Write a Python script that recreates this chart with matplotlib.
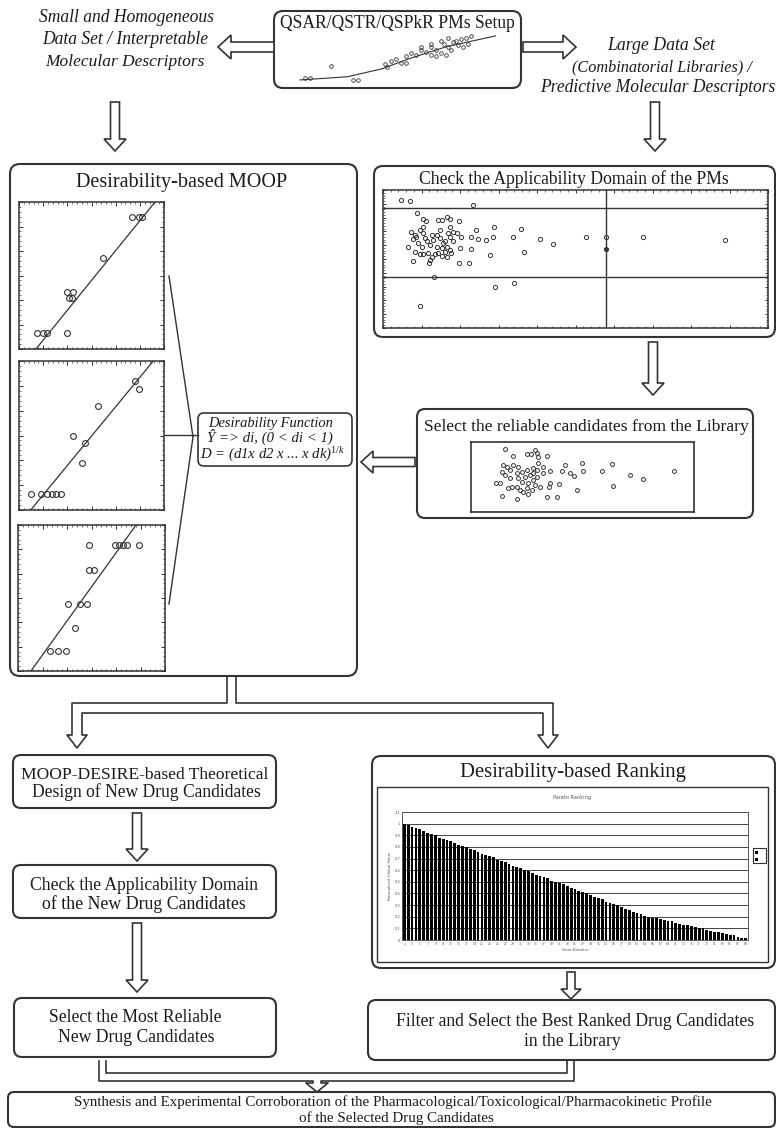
import matplotlib
matplotlib.use('Agg')
import matplotlib.pyplot as plt
from matplotlib.patches import FancyBboxPatch, FancyArrow, Rectangle
from matplotlib.ticker import MultipleLocator

W, H = 776, 1128
plt.rcParams['font.family'] = ['Liberation Serif', 'DejaVu Serif']
plt.rcParams['mathtext.fontset'] = 'custom'
plt.rcParams['mathtext.it'] = 'Liberation Serif:italic'
plt.rcParams['mathtext.rm'] = 'Liberation Serif'

# ---------------- data (relative 0-100 units) ----------------
# top QSAR box scatter
qsar_x = [6.7, 9.0, 18.6, 28.5, 30.8, 43.4, 44.3, 46.1, 48.4, 50.6, 52.9, 55.1, 57.4, 59.6,
          61.9, 64.1, 66.4, 68.6, 69.8, 72.0, 74.3, 75.4, 77.6, 79.9, 81.0, 78.8, 73.1, 66.4,
          59.6, 52.9, 64.1, 70.9, 76.5, 82.1, 64.1, 68.6, 72.0]
qsar_y = [10.5, 10.5, 33.9, 7.5, 7.5, 36.7, 30.9, 42.5, 45.4, 39.6, 51.2, 57.0, 54.2, 62.8,
          60.0, 68.8, 62.8, 57.0, 74.6, 68.8, 77.4, 80.4, 83.3, 86.1, 74.6, 68.8, 62.8, 51.2,
          68.8, 39.6, 54.2, 54.2, 71.6, 89.1, 74.6, 80.4, 86.1]
qsar_curve_x = [4.5, 25.9, 41.6, 55.1, 70.9, 93.4]
qsar_curve_y = [7.5, 13.3, 27.9, 48.2, 68.8, 89.1]

# MOOP scatter plots (observed vs predicted)
p1_x = [12.6, 16.8, 19.5, 32.9, 32.9, 37.0, 34.5, 36.3, 57.7, 77.7, 83.0, 85.1]
p1_y = [11.1, 11.1, 11.1, 11.1, 38.9, 38.9, 34.4, 34.8, 62.2, 89.8, 89.8, 89.8]
p1_line_x = [11.7, 93.8]
p1_line_y = [0.0, 100.0]

p2_x = [80.0, 83.0, 54.3, 37.0, 45.7, 43.2, 8.1, 15.0, 19.1, 22.6, 25.5, 28.8]
p2_y = [86.6, 81.5, 69.7, 49.6, 44.7, 31.3, 10.7, 10.7, 10.7, 10.7, 10.7, 10.7]
p2_line_x = [8.1, 92.6]
p2_line_y = [0.0, 100.0]

p3_x = [48.6, 66.1, 69.0, 71.3, 74.0, 82.6, 48.0, 51.8, 33.9, 41.9, 46.8, 38.9, 21.5, 26.9, 32.6]
p3_y = [86.0, 86.0, 86.0, 86.0, 86.0, 86.0, 69.1, 69.1, 45.8, 45.8, 45.8, 29.7, 13.7, 13.7, 13.7]
p3_line_x = [8.8, 80.3]
p3_line_y = [0.0, 100.0]

# applicability domain (Williams-like) plot
ad_x = [4.8, 6.9, 23.4, 8.8, 10.4, 11.1, 14.3, 15.2, 16.6, 17.3, 19.7, 24.2, 28.8, 35.9,
        22.9, 24.7, 26.8, 28.7, 33.8, 40.9, 44.2, 52.6, 57.8, 67.5, 88.9, 19.9, 22.9, 27.7,
        36.5, 7.8, 19.7, 22.3, 13.2, 29.1, 34.0, 9.7,
        7.4, 8.2, 8.7, 9.5, 10.4, 10.8, 7.8, 9.1, 10.0, 11.3, 12.1, 13.0, 13.9, 14.7, 15.6,
        16.5, 17.3, 18.2, 19.2, 20.3, 6.5, 8.2, 9.5, 10.4, 11.7, 12.6, 13.4, 14.3, 15.2, 16.0,
        12.1, 11.9, 17.3, 16.9, 13.9, 15.2, 16.0, 18.2, 17.3, 10.4, 12.6, 16.5, 17.7, 14.7]
ad_y = [92.8, 92.0, 89.2, 83.1, 78.8, 77.6, 78.3, 78.3, 80.7, 78.8, 77.6, 71.1, 73.0, 72.0,
        65.8, 64.3, 63.9, 65.8, 66.3, 64.3, 61.0, 66.3, 65.8, 66.3, 63.9, 57.8, 57.3, 53.0,
        55.4, 48.2, 47.0, 47.0, 37.3, 29.4, 32.5, 15.7,
        69.9, 67.5, 65.8, 71.1, 68.7, 65.1, 64.3, 61.4, 59.0, 62.7, 60.2, 63.9, 67.5, 65.1, 61.4,
        59.0, 65.8, 69.9, 68.7, 66.3, 58.6, 55.4, 53.3, 53.3, 54.2, 51.8, 53.7, 54.2, 52.3, 55.4,
        49.4, 47.0, 73.5, 68.7, 59.0, 57.8, 62.7, 62.7, 56.6, 73.5, 67.5, 51.8, 54.2, 71.1]
ad_filled_x = [57.8]
ad_filled_y = [57.6]
ad_hlines = [86.7, 37.3]
ad_vline = 57.8

# reliable candidates
rel_x = [15.2, 19.0, 25.0, 26.8, 28.7, 29.4, 30.2, 34.2, 30.2, 32.4, 35.4, 40.7, 42.2, 44.4,
         46.2, 49.9, 50.1, 58.9, 63.1, 71.3, 77.3, 91.0, 63.8, 47.7, 39.6, 35.4, 35.0, 38.7,
         34.2, 20.5, 13.8, 11.2, 13.0,
         14.5, 16.0, 17.5, 19.0, 20.5, 21.2, 22.7, 24.2, 25.0, 26.5, 28.0, 28.7, 29.4, 30.9,
         25.0, 23.5, 22.0, 20.5, 18.2, 16.7, 27.2, 25.7, 28.0, 29.4, 32.4, 21.2, 15.2, 17.5,
         13.8, 22.7, 25.7, 27.7]
rel_y = [90.4, 80.3, 82.7, 83.2, 88.9, 84.1, 78.4, 80.3, 69.7, 64.9, 59.1, 59.1, 67.3, 55.3,
         51.4, 70.7, 59.1, 59.1, 68.8, 52.9, 46.6, 59.1, 37.0, 31.3, 39.9, 40.9, 36.1, 21.6,
         21.6, 19.2, 22.6, 41.8, 40.9,
         67.3, 63.9, 60.1, 67.3, 55.3, 48.1, 43.3, 50.5, 60.1, 52.9, 45.7, 38.5, 50.5, 36.1,
         33.7, 28.8, 31.3, 35.1, 36.1, 33.7, 31.3, 26.4, 62.5, 60.1, 55.3, 64.9, 52.9, 48.1,
         57.7, 57.7, 41.8, 56.3]

# desirability ranking (normalized global value per gear)
rank_values = [1.00, 0.99, 0.97, 0.96, 0.95, 0.94, 0.92, 0.91, 0.90, 0.88, 0.87, 0.86, 0.85,
               0.83, 0.82, 0.81, 0.80, 0.78, 0.77, 0.76, 0.74, 0.73, 0.72, 0.71, 0.69, 0.68,
               0.67, 0.65, 0.64, 0.63, 0.62, 0.60, 0.59, 0.58, 0.56, 0.55, 0.54, 0.53, 0.51,
               0.50, 0.49, 0.48, 0.46, 0.45, 0.44, 0.42, 0.41, 0.40, 0.39, 0.37, 0.36, 0.35,
               0.33, 0.32, 0.31, 0.30, 0.28, 0.27, 0.26, 0.24, 0.23, 0.22, 0.21, 0.20, 0.19,
               0.19, 0.18, 0.17, 0.16, 0.16, 0.15, 0.14, 0.13, 0.13, 0.12, 0.11, 0.10, 0.10,
               0.09, 0.08, 0.07, 0.07, 0.06, 0.05, 0.04, 0.04, 0.03, 0.02, 0.02]
gear_numbers = list(range(1, len(rank_values) + 1))
rank_yticks = [0, 0.1, 0.2, 0.3, 0.4, 0.5, 0.6, 0.7, 0.8, 0.9, 1.0, 1.1]
rank_ytick_labels = ['0', '0.1', '0.2', '0.3', '0.4', '0.5', '0.6', '0.7', '0.8', '0.9', '1', '1.1']

# ---------------- drawing ----------------
fig = plt.figure(figsize=(W / 100, H / 100), dpi=100)
ax = fig.add_axes([0, 0, 1, 1])
ax.set_xlim(0, W)
ax.set_ylim(H, 0)
ax.axis('off')
renderer = fig.canvas.get_renderer()

EDGE = '#333333'
TXT = '#1a1a1a'


def rbox(x0, y0, x1, y1, r=8, lw=1.5):
    p = FancyBboxPatch((x0, y0), x1 - x0, y1 - y0,
                       boxstyle=f"round,pad=0,rounding_size={r}",
                       fc='white', ec=EDGE, lw=lw, zorder=2)
    ax.add_patch(p)


def ftext(x, y, s, width, style='normal', maxsize=None, **kw):
    t = ax.text(x, y, s, ha='center', va='center', fontsize=10, style=style,
                color=TXT, zorder=6, **kw)
    w = t.get_window_extent(renderer).width
    size = 10 * width / w
    if maxsize is not None:
        size = min(size, maxsize)
    t.set_fontsize(size)
    return t


def harrow(x0, y0, x1, y1, w, hw, hl):
    a = FancyArrow(x0, y0, x1 - x0, y1 - y0, width=w, head_width=hw, head_length=hl,
                   length_includes_head=True, fc='white', ec=EDGE, lw=1.2, zorder=3)
    ax.add_patch(a)


def inset(x0, y0, x1, y1):
    return fig.add_axes([x0 / W, 1 - y1 / H, (x1 - x0) / W, (y1 - y0) / H])


def style_plot(a, major=100 / 6, minor=100 / 30, ticks=True, lw=1.1):
    a.set_xlim(0, 100)
    a.set_ylim(0, 100)
    if ticks:
        for axis in (a.xaxis, a.yaxis):
            axis.set_major_locator(MultipleLocator(major))
            axis.set_minor_locator(MultipleLocator(minor))
        a.tick_params(which='both', direction='in', top=True, right=True,
                      labelbottom=False, labelleft=False, color=EDGE)
        a.tick_params(which='major', length=3, width=0.7)
        a.tick_params(which='minor', length=1.5, width=0.5)
    else:
        a.set_xticks([])
        a.set_yticks([])
    for s in a.spines.values():
        s.set_linewidth(lw)
        s.set_color(EDGE)


# ---- top section ----
rbox(274, 11, 521, 88, r=9)
ftext(397, 24, 'QSAR/QSTR/QSPkR PMs Setup', 236)
aq = inset(290, 30, 510, 84)
aq.plot(qsar_curve_x, qsar_curve_y, color=EDGE, lw=0.8)
aq.plot(qsar_x, qsar_y, 'o', ms=2.6, mfc='none', mec=EDGE, mew=0.6)
aq.set_xlim(0, 100)
aq.set_ylim(0, 100)
aq.axis('off')

ftext(126, 18, 'Small and Homogeneous', 176, style='italic')
ftext(125, 40, 'Data Set / Interpretable', 167, style='italic')
ftext(125, 62, 'Molecular Descriptors', 159, style='italic')
harrow(274, 47, 218, 47, 10, 24, 13)
harrow(523, 47, 576, 47, 10, 24, 13)
ftext(661, 46, 'Large Data Set', 108, style='italic')
ftext(662, 67, '(Combinatorial Libraries) /', 180, style='italic')
ftext(658, 88, 'Predictive Molecular Descriptors', 236, style='italic')

harrow(115, 102, 115, 151, 9, 22, 12)
harrow(655, 102, 655, 151, 9, 22, 12)

# ---- MOOP box ----
rbox(10, 164, 357, 676, r=10)
ftext(182, 182, 'Desirability-based MOOP', 211)
for (rect, xs, ys, lx, ly) in [((19, 202, 164, 349), p1_x, p1_y, p1_line_x, p1_line_y),
                               ((19, 361, 164, 510), p2_x, p2_y, p2_line_x, p2_line_y),
                               ((18, 525, 165, 671), p3_x, p3_y, p3_line_x, p3_line_y)]:
    a = inset(*rect)
    a.plot(lx, ly, color=EDGE, lw=0.9)
    a.plot(xs, ys, 'o', ms=4.2, mfc='none', mec=EDGE, mew=0.8, clip_on=False)
    style_plot(a)

# fan lines to the desirability function box
ax.plot([169, 193], [276, 437], color=EDGE, lw=1.0, zorder=4)
ax.plot([169, 193], [604, 437], color=EDGE, lw=1.0, zorder=4)
ax.plot([165, 198], [435, 435], color=EDGE, lw=1.0, zorder=4)
rbox(198, 413, 352, 466, r=6, lw=1.2)
ftext(271, 423, 'Desirability Function', 126, style='italic')
ftext(270, 437, '\u0176 => di, (0 < di < 1)', 126, style='italic')
ftext(273, 455, 'D = (d1x d2 x ... x dk)$^{1/k}$', 145, style='italic')

# ---- applicability domain box ----
rbox(374, 166, 775, 337, r=9)
ftext(574, 179, 'Check the Applicability Domain of the PMs', 310)
aa = inset(383, 190, 768, 328)
for yv in ad_hlines:
    aa.axhline(yv, color=EDGE, lw=1.0)
aa.axvline(ad_vline, color=EDGE, lw=1.0)
aa.plot(ad_x, ad_y, 'o', ms=3.0, mfc='none', mec=EDGE, mew=0.7)
aa.plot(ad_filled_x, ad_filled_y, 'o', ms=3.0, mfc=EDGE, mec=EDGE, mew=0.7)
style_plot(aa, major=10, minor=2)
aa.tick_params(which='major', length=2)
aa.tick_params(which='minor', length=1.2)

harrow(653, 342, 653, 395, 9, 22, 12)

# ---- reliable candidates ----
rbox(417, 409, 753, 518, r=8)
ftext(586, 427, 'Select the reliable candidates from the Library', 325)
ar = inset(471, 442, 694, 512)
ar.plot(rel_x, rel_y, 'o', ms=2.8, mfc='none', mec=EDGE, mew=0.7)
style_plot(ar, ticks=False, lw=1.2)

harrow(415, 462, 361, 462, 9, 22, 12)

# ---- split connector below MOOP ----
pipe_x = [227, 227, 72, 72, 67, 77, 87, 82, 82, 543, 543, 538, 548, 558, 553, 553, 236, 236]
pipe_y = [677, 703, 703, 735, 735, 748, 735, 735, 713, 713, 735, 735, 748, 735, 735, 703, 703, 677]
ax.plot(pipe_x, pipe_y, color=EDGE, lw=1.2, zorder=3)

# ---- left column ----
rbox(13, 755, 276, 808, r=8)
ftext(145, 775, 'MOOP-DESIRE-based Theoretical', 247)
ftext(146, 792, 'Design of New Drug Candidates', 229)
harrow(137, 813, 137, 861, 9, 22, 12)
rbox(13, 865, 276, 918, r=8)
ftext(144, 886, 'Check the Applicability Domain', 229)
ftext(144, 904, 'of the New Drug Candidates', 203)
harrow(137, 923, 137, 992, 9, 22, 12)
rbox(14, 998, 276, 1057, r=8)
ftext(135, 1017, 'Select the Most Reliable', 173)
ftext(136, 1037, 'New Drug Candidates', 157)

# ---- ranking box ----
rbox(372, 756, 775, 968, r=9)
ftext(573, 772, 'Desirability-based Ranking', 227)
ax.add_patch(Rectangle((377, 787), 391, 175, fc='white', ec=EDGE, lw=1.0, zorder=3))
ax.text(572, 797, 'Pareto Ranking', ha='center', va='center', fontsize=3.6,
        family='DejaVu Sans', color='#555555', zorder=6)
ak = inset(402, 812, 748, 940)
ak.bar(gear_numbers, rank_values, width=0.72, color='black', zorder=3)
ak.set_xlim(0.4, len(rank_values) + 0.6)
ak.set_ylim(0, 1.1)
ak.set_yticks(rank_yticks)
ak.set_yticklabels(rank_ytick_labels, fontsize=2.6, family='DejaVu Sans', color='#555555')
ak.set_xticks(gear_numbers[::2])
ak.set_xticklabels([str(g) for g in gear_numbers[::2]], fontsize=2.2,
                   family='DejaVu Sans', color='#555555')
ak.tick_params(length=0, pad=1.2)
ak.yaxis.grid(True, color='#444444', lw=0.7)
ak.set_axisbelow(True)
ak.set_xlabel('Gear Number', fontsize=2.8, family='DejaVu Sans', color='#555555', labelpad=1.5)
ak.set_ylabel('Normalized Global Value', fontsize=2.8, family='DejaVu Sans',
              color='#555555', labelpad=1.5)
for s in ak.spines.values():
    s.set_linewidth(0.7)
    s.set_color('#555555')
# small legend
ax.add_patch(Rectangle((753, 848), 13, 15, fc='white', ec=EDGE, lw=0.8, zorder=6))
ax.add_patch(Rectangle((755, 851), 3, 3, fc='black', ec='none', zorder=7))
ax.add_patch(Rectangle((755, 858), 3, 3, fc='black', ec='none', zorder=7))

harrow(571, 972, 571, 999, 8, 20, 10)

rbox(368, 1000, 775, 1060, r=8)
ftext(575, 1022, 'Filter and Select the Best Ranked Drug Candidates', 360)
ftext(572, 1041, 'in the Library', 97)

# ---- bottom connector ----
ax.plot([99, 99, 313, 313, 306, 317, 328, 321, 321, 574, 574],
        [1061, 1081, 1081, 1083, 1083, 1092, 1083, 1083, 1081, 1081, 1061],
        color=EDGE, lw=1.2, zorder=3)
ax.plot([106, 106, 567, 567], [1061, 1073, 1073, 1061], color=EDGE, lw=1.2, zorder=3)

rbox(8, 1092, 775, 1127, r=6)
ftext(393, 1102, 'Synthesis and Experimental Corroboration of the Pharmacological/'
      'Toxicological/Pharmacokinetic Profile', 750, maxsize=10.8)
ftext(396, 1118, 'of the Selected Drug Candidates', 232, maxsize=10.8)

fig.savefig('out.png', dpi=100)
